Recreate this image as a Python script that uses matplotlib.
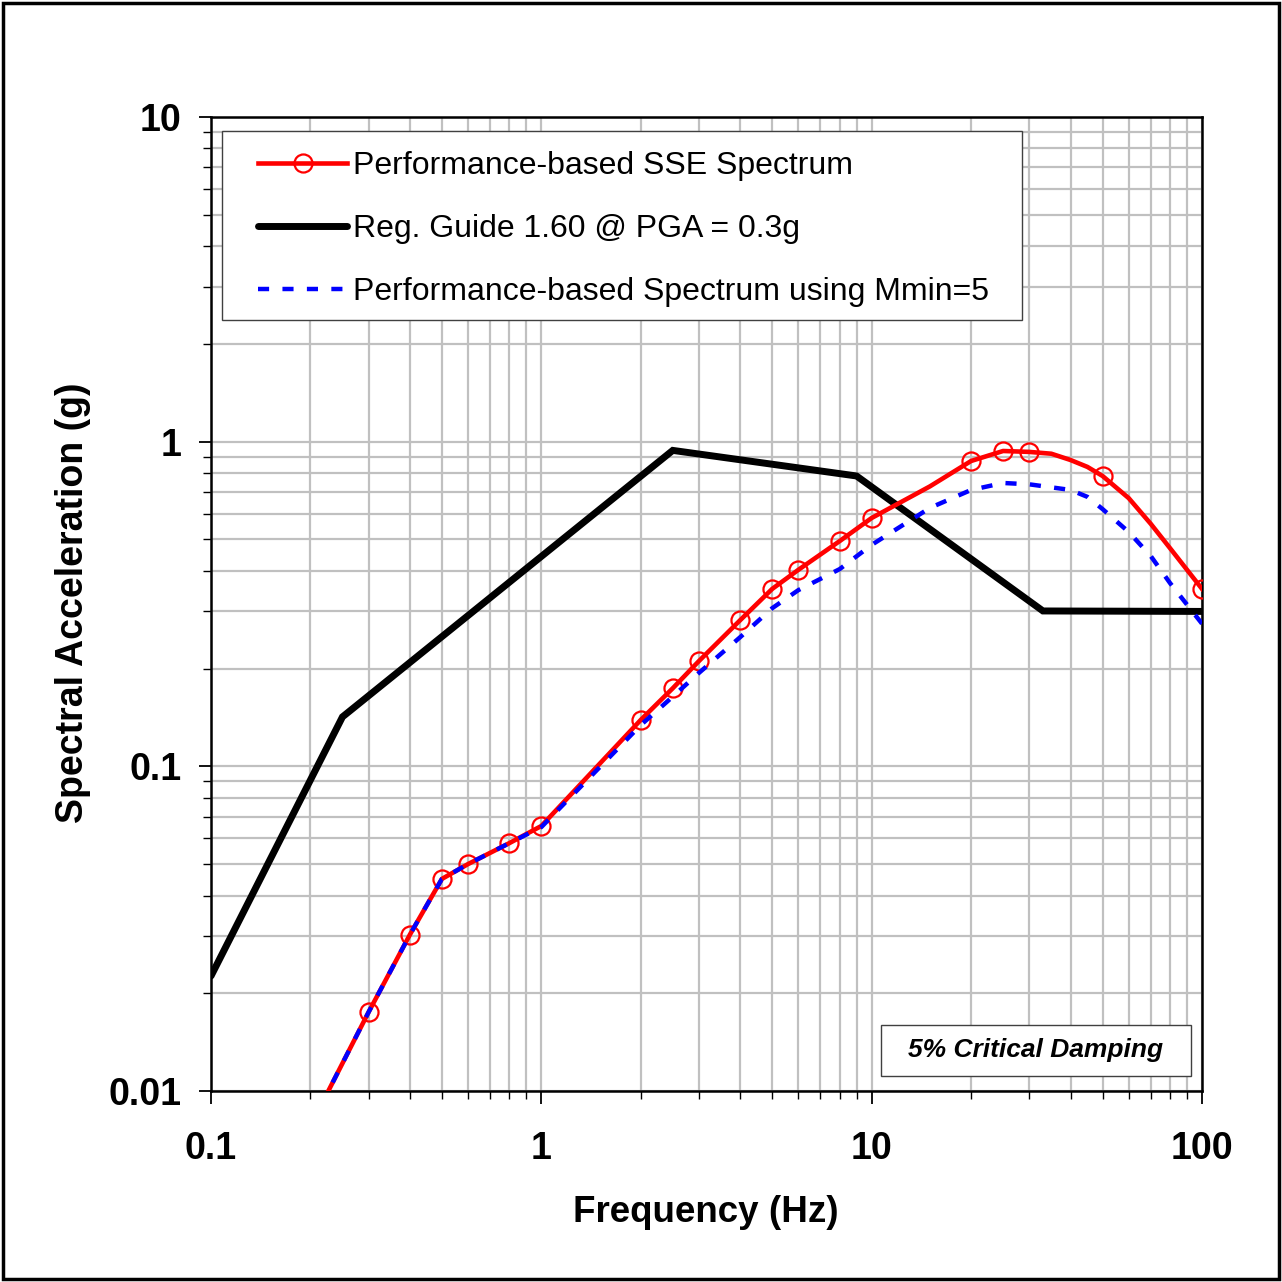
import matplotlib
matplotlib.use("Agg")
import matplotlib.pyplot as plt
from matplotlib.ticker import LogLocator, FixedLocator, FixedFormatter, NullFormatter
from matplotlib.patches import Rectangle

plt.rcParams['font.family'] = ['Liberation Sans', 'DejaVu Sans']

# Performance-based SSE Spectrum (red, markers)
red_f = [0.2, 0.3, 0.4, 0.5, 0.6, 0.8, 1.0, 2.0, 2.5, 3.0, 4.0, 5.0, 6.0, 8.0, 10.0, 15.0, 20.0, 25.0, 30.0, 35.0, 40.0, 45.0, 50.0, 60.0, 70.0, 80.0, 100.0]
red_sa = [0.0078, 0.0175, 0.0303, 0.045, 0.050, 0.058, 0.0655, 0.139, 0.174, 0.211, 0.282, 0.352, 0.403, 0.494, 0.582, 0.728, 0.872, 0.936, 0.930, 0.918, 0.878, 0.836, 0.784, 0.670, 0.558, 0.470, 0.352]
red_marker_f = [0.3, 0.4, 0.5, 0.6, 0.8, 1.0, 2.0, 2.5, 3.0, 4.0, 5.0, 6.0, 8.0, 10.0, 20.0, 25.0, 30.0, 50.0, 100.0]

# Reg. Guide 1.60 @ PGA = 0.3g (black)
rg_f = [0.1, 0.25, 2.5, 9.0, 33.0, 100.0]
rg_sa = [0.0226, 0.142, 0.940, 0.784, 0.301, 0.300]

# Performance-based Spectrum using Mmin=5 (blue dashed)
blue_f = [0.2, 0.3, 0.4, 0.5, 0.6, 0.8, 1.0, 2.0, 2.5, 3.0, 4.0, 5.0, 6.0, 8.0, 10.0, 15.0, 20.0, 25.0, 30.0, 40.0, 45.0, 50.0, 60.0, 70.0, 80.0, 100.0]
blue_sa = [0.0078, 0.0175, 0.0303, 0.045, 0.050, 0.058, 0.065, 0.134, 0.164, 0.194, 0.250, 0.307, 0.349, 0.405, 0.481, 0.625, 0.71, 0.746, 0.739, 0.71, 0.676, 0.62, 0.527, 0.444, 0.367, 0.275]

x_ticks = [0.1, 1, 10, 100]
x_labels = ['0.1', '1', '10', '100']
y_ticks = [0.01, 0.1, 1, 10]
y_labels = ['0.01', '0.1', '1', '10']

fig = plt.figure(figsize=(12.82, 12.82), dpi=100)
ax = fig.add_axes([211/1282, 1 - 1091/1282, (1202-211)/1282, (1091-117)/1282])
ax.set_xscale('log')
ax.set_yscale('log')
ax.set_xlim(0.1, 100)
ax.set_ylim(0.01, 10)

ax.plot(rg_f, rg_sa, color='black', lw=5, solid_joinstyle='miter', solid_capstyle='round',
        zorder=3, label='Reg. Guide 1.60 @ PGA = 0.3g')
mk_idx = [red_f.index(v) for v in red_marker_f]
ax.plot(red_f, red_sa, color='red', lw=3.3, marker='o', markevery=mk_idx,
        markersize=13, markerfacecolor='none', markeredgecolor='red', markeredgewidth=1.6,
        zorder=4, label='Performance-based SSE Spectrum')
ax.plot(blue_f, blue_sa, color='blue', lw=3.2, linestyle=(0, (2.5, 3.0)), zorder=5,
        label='Performance-based Spectrum using Mmin=5')

ax.xaxis.set_major_locator(FixedLocator(x_ticks))
ax.xaxis.set_major_formatter(FixedFormatter(x_labels))
ax.yaxis.set_major_locator(FixedLocator(y_ticks))
ax.yaxis.set_major_formatter(FixedFormatter(y_labels))
ax.xaxis.set_minor_locator(LogLocator(base=10, subs=range(2, 10), numticks=20))
ax.yaxis.set_minor_locator(LogLocator(base=10, subs=range(2, 10), numticks=20))
ax.xaxis.set_minor_formatter(NullFormatter())
ax.yaxis.set_minor_formatter(NullFormatter())

ax.grid(True, which='both', color='#c0c0c0', lw=1.6, zorder=0)
ax.set_axisbelow(True)
ax.tick_params(which='major', direction='out', length=9, width=1.3, labelsize=27,
               top=False, right=False)
ax.tick_params(axis='x', which='major', pad=20)
ax.tick_params(axis='y', which='major', pad=12)
ax.tick_params(which='minor', direction='out', length=6, width=1.0, top=False, right=False)
for lab in ax.get_xticklabels() + ax.get_yticklabels():
    lab.set_fontweight('bold')
for s in ax.spines.values():
    s.set_linewidth(1.8)
    s.set_color('black')

ax.set_xlabel('Frequency (Hz)', fontsize=26.5, fontweight='bold')
ax.set_ylabel('Spectral Acceleration (g)', fontsize=27, fontweight='bold')
ax.xaxis.label.set_va('center')
ax.yaxis.label.set_va('center')
ax.xaxis.set_label_coords(0.4995, (1091 - 1212) / 974)
ax.yaxis.set_label_coords((73 - 211) / 991, 0.5015)

handles, labels = ax.get_legend_handles_labels()
order = [1, 0, 2]
leg = ax.legend([handles[i] for i in order], [labels[i] for i in order],
                loc='upper left', bbox_to_anchor=((258 - 211) / 991, (1091 - 151) / 974),
                borderaxespad=0, borderpad=0,
                fontsize=23, handlelength=2.79, handletextpad=0.19, labelspacing=1.04,
                frameon=False)
leg.set_zorder(10)
ax.add_patch(Rectangle(((222 - 211) / 991, (1091 - 320) / 974), 800 / 991, 189 / 974,
                       transform=ax.transAxes, facecolor='white', edgecolor='#404040',
                       lw=1.0, zorder=9))

ax.add_patch(Rectangle(((881 - 211) / 991, (1091 - 1076) / 974), 310 / 991, 51 / 974,
                       transform=ax.transAxes, facecolor='white', edgecolor='#404040',
                       lw=1.0, zorder=9))
ax.text((1036 - 211) / 991, (1091 - 1050.5) / 974, '5% Critical Damping', transform=ax.transAxes,
        fontsize=19, fontweight='bold', fontstyle='italic', ha='center', va='center',
        zorder=10)

fig.patches.append(Rectangle((0.002, 0.002), 0.996, 0.996, transform=fig.transFigure,
                             fill=False, edgecolor='black', lw=2.5))

fig.savefig('out.png', dpi=100)
